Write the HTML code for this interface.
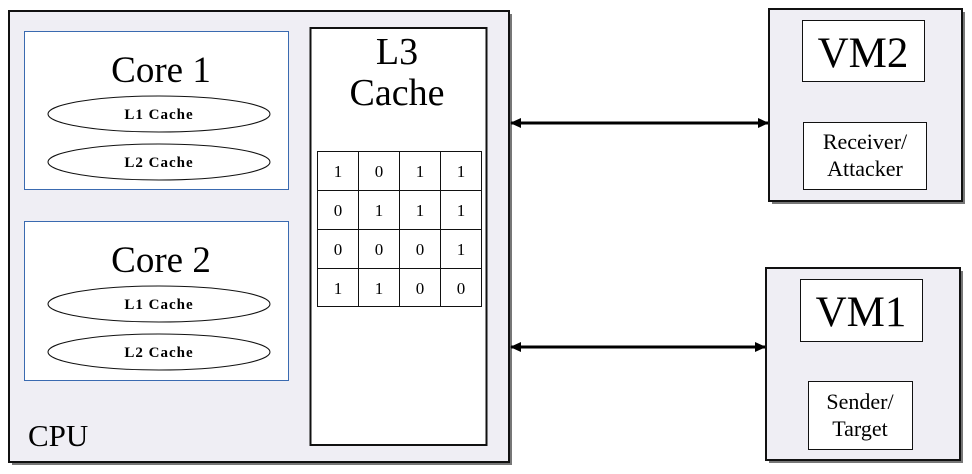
<!DOCTYPE html>
<html><head><style>body{margin:0;background:#fff}svg{display:block}</style></head><body>
<svg width="972" height="474" viewBox="0 0 972 474" xmlns="http://www.w3.org/2000/svg" font-family="Liberation Serif, serif">
<defs>
<marker id="a" markerWidth="11" markerHeight="10" refX="10" refY="5" orient="auto-start-reverse" markerUnits="userSpaceOnUse"><path d="M0,0 L11,5 L0,10 z" fill="#000"/></marker>
</defs>
<!-- CPU -->
<rect x="12" y="14" width="500" height="451" fill="#777"/>
<rect x="9" y="11" width="500" height="451" fill="#efeef4" stroke="#111" stroke-width="2"/>
<rect x="24.5" y="31.5" width="264" height="158" fill="#fff" stroke="#3a6ab0" stroke-width="1"/>
<rect x="24.5" y="221.5" width="264" height="159" fill="#fff" stroke="#3a6ab0" stroke-width="1"/>
<text x="161" y="82" font-size="37" text-anchor="middle">Core 1</text>
<text x="161" y="272" font-size="37" text-anchor="middle">Core 2</text>
<g fill="#fff" stroke="#111" stroke-width="1">
<ellipse cx="159" cy="114" rx="111" ry="18"/>
<ellipse cx="159" cy="162" rx="111" ry="18"/>
<ellipse cx="159" cy="304" rx="111" ry="18"/>
<ellipse cx="159" cy="352" rx="111" ry="18"/>
</g>
<g font-size="15" font-weight="bold" text-anchor="middle" letter-spacing="1">
<text x="159" y="119">L1 Cache</text>
<text x="159" y="167">L2 Cache</text>
<text x="159" y="309">L1 Cache</text>
<text x="159" y="357">L2 Cache</text>
</g>
<text x="28" y="446" font-size="31">CPU</text>
<!-- L3 -->
<rect x="310.5" y="28" width="176" height="417" fill="#fff" stroke="#111" stroke-width="2"/>
<text x="397" y="64" font-size="38" text-anchor="middle">L3</text>
<text x="397" y="105" font-size="38" text-anchor="middle">Cache</text>
<g stroke="#111" stroke-width="1" fill="none">
<rect x="317.5" y="151.5" width="164" height="155"/>
<line x1="358.5" y1="151" x2="358.5" y2="307"/>
<line x1="399.5" y1="151" x2="399.5" y2="307"/>
<line x1="440.5" y1="151" x2="440.5" y2="307"/>
<line x1="317" y1="190.5" x2="482" y2="190.5"/>
<line x1="317" y1="229.5" x2="482" y2="229.5"/>
<line x1="317" y1="268.5" x2="482" y2="268.5"/>
</g>
<g font-size="17" text-anchor="middle">
<text x="338" y="177">1</text><text x="379" y="177">0</text><text x="420" y="177">1</text><text x="461" y="177">1</text>
<text x="338" y="216">0</text><text x="379" y="216">1</text><text x="420" y="216">1</text><text x="461" y="216">1</text>
<text x="338" y="255">0</text><text x="379" y="255">0</text><text x="420" y="255">0</text><text x="461" y="255">1</text>
<text x="338" y="294">1</text><text x="379" y="294">1</text><text x="420" y="294">0</text><text x="461" y="294">0</text>
</g>
<!-- arrows -->
<line x1="511" y1="123" x2="768" y2="123" stroke="#000" stroke-width="3" marker-start="url(#a)" marker-end="url(#a)"/>
<line x1="511" y1="347" x2="765" y2="347" stroke="#000" stroke-width="3" marker-start="url(#a)" marker-end="url(#a)"/>
<!-- VM2 -->
<rect x="772" y="12" width="193" height="192" fill="#777"/>
<rect x="769" y="9" width="193" height="192" fill="#efeef4" stroke="#111" stroke-width="2"/>
<rect x="802.5" y="20.5" width="122" height="61" fill="#fff" stroke="#111"/>
<text x="863" y="67" font-size="43" text-anchor="middle">VM2</text>
<rect x="803.5" y="122.5" width="123" height="67" fill="#fff" stroke="#111"/>
<text x="865" y="149" font-size="22" text-anchor="middle">Receiver/</text>
<text x="865" y="176" font-size="22" text-anchor="middle">Attacker</text>
<!-- VM1 -->
<rect x="769" y="271" width="194" height="192" fill="#777"/>
<rect x="766" y="268" width="194" height="192" fill="#efeef4" stroke="#111" stroke-width="2"/>
<rect x="800.5" y="279.5" width="122" height="62" fill="#fff" stroke="#111"/>
<text x="861" y="326" font-size="43" text-anchor="middle">VM1</text>
<rect x="808.5" y="381.5" width="104" height="68" fill="#fff" stroke="#111"/>
<text x="860" y="409" font-size="22" text-anchor="middle">Sender/</text>
<text x="860" y="436" font-size="22" text-anchor="middle">Target</text>
</svg>
</body></html>
